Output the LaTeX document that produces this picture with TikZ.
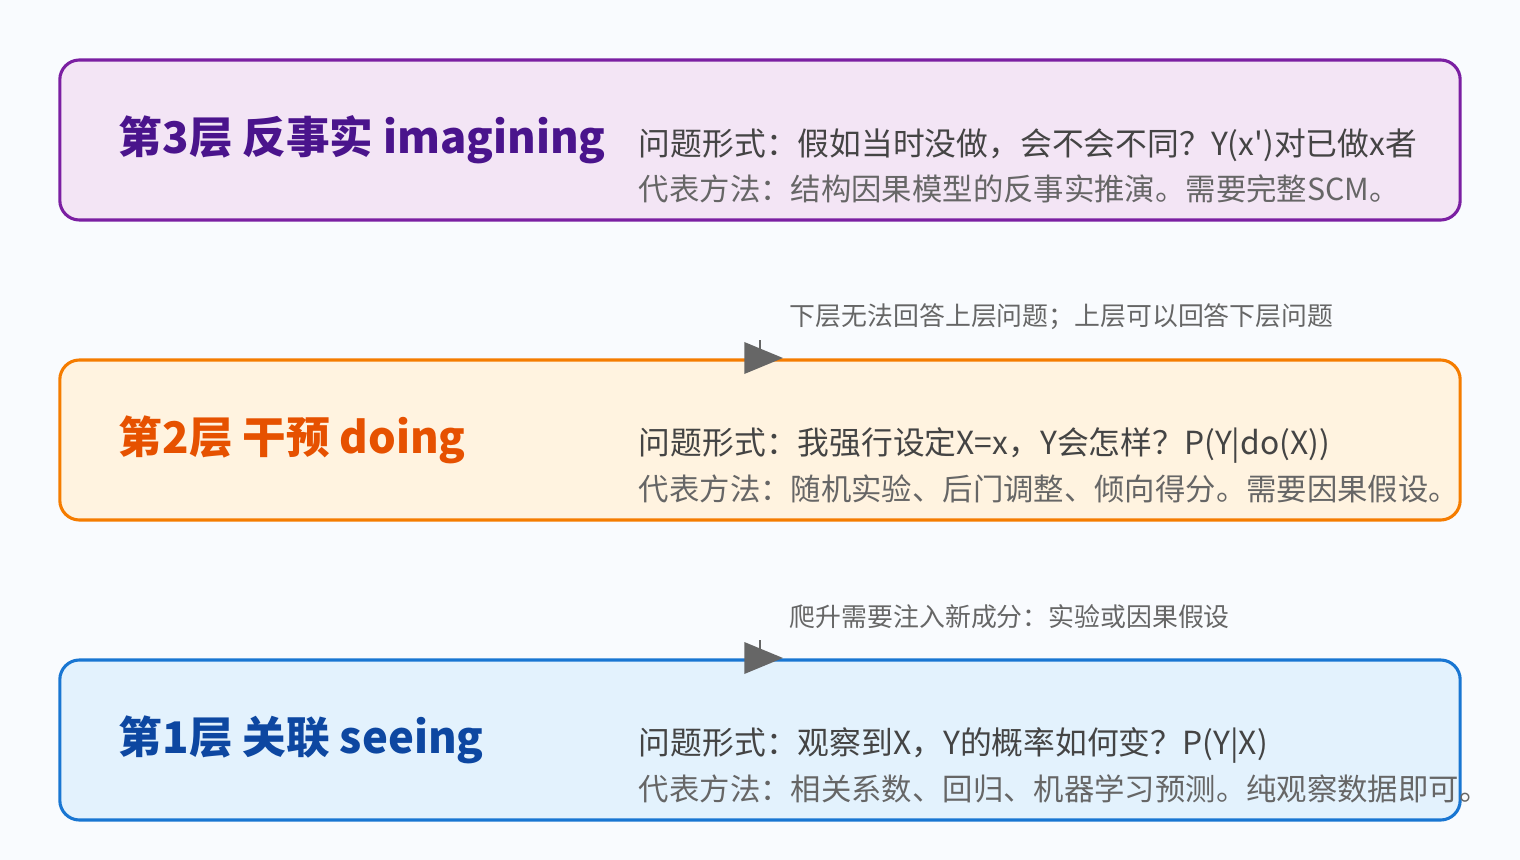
\documentclass[tikz,border=0pt]{standalone}
\usepackage{fontspec}
\setmainfont{Noto Sans CJK SC}
\newfontfamily\cjk{Noto Sans CJK SC}
\usetikzlibrary{shapes.geometric, positioning}
\definecolor{bgpaper}{HTML}{F9FBFE}
\definecolor{purpleedge}{HTML}{7B1FA2}
\definecolor{purplefill}{HTML}{F3E5F5}
\definecolor{purpletext}{HTML}{4A148C}
\definecolor{orangeedge}{HTML}{F57C00}
\definecolor{orangefill}{HTML}{FFF3E0}
\definecolor{orangetext}{HTML}{E65100}
\definecolor{blueedge}{HTML}{1976D2}
\definecolor{bluefill}{HTML}{E3F2FD}
\definecolor{bluetext}{HTML}{0D47A1}
\definecolor{mutedgray}{HTML}{666666}
\definecolor{darkgray}{HTML}{444444}

\begin{document}
\begin{tikzpicture}[x=0.025cm, y=-0.025cm,
  rung/.style={draw, line width=2.2pt, rounded corners=14pt, minimum width=35cm, minimum height=4cm, inner sep=0pt},
  title/.style={anchor=west, font=\cjk\bfseries\fontsize{31}{34}\selectfont},
  question/.style={anchor=west, font=\cjk\fontsize{22.6}{26}\selectfont, text=darkgray},
  method/.style={anchor=west, font=\cjk\fontsize{21.6}{25}\selectfont, text=mutedgray},
  note/.style={anchor=west, font=\cjk\fontsize{18.4}{21}\selectfont, text=mutedgray},
  tip/.style={isosceles triangle, fill=mutedgray, minimum width=0.8cm, minimum height=0.75cm, inner sep=0pt}
]
  \useasboundingbox (0,0) rectangle (1520,860);
  \fill[bgpaper] (0,0) rectangle (1520,860);

  % rungs of the ladder
  \node[rung, draw=purpleedge, fill=purplefill] (l3) at (760,140) {};
  \node[rung, draw=orangeedge, fill=orangefill] (l2) at (760,440) {};
  \node[rung, draw=blueedge, fill=bluefill] (l1) at (760,740) {};

  \node[title, text=purpletext] (t3) at (114,140) {第3层 反事实 imagining};
  \node[question] (q3) at (634,145) {问题形式：假如当时没做，会不会不同？Y(x')对已做x者};
  \node[method] (m3) at (634,189) {代表方法：结构因果模型的反事实推演。需要完整SCM。};

  \node[title, text=orangetext] (t2) at (114,440) {第2层 干预 doing};
  \node[question] (q2) at (634,445) {问题形式：我强行设定X=x，Y会怎样？P(Y|do(X))};
  \node[method] (m2) at (634,489) {代表方法：随机实验、后门调整、倾向得分。需要因果假设。};

  \node[title, text=bluetext] (t1) at (114,740) {第1层 关联 seeing};
  \node[question] (q1) at (634,745) {问题形式：观察到X，Y的概率如何变？P(Y|X)};
  \node[method] (m1) at (634,789) {代表方法：相关系数、回归、机器学习预测。纯观察数据即可。};

  % climbing markers
  \coordinate (c2) at (760,340);
  \coordinate (c1) at (760,640);
  \draw[mutedgray, line width=2pt] (c2) -- (c2 |- l2.north);
  \draw[mutedgray, line width=2pt] (c1) -- (c1 |- l1.north);
  \node[tip] (a2) at (755,358) {};
  \node[tip] (a1) at (755,658) {};
  \node[note] (n2) at (785,317) {下层无法回答上层问题；上层可以回答下层问题};
  \node[note] (n1) at (785,617) {爬升需要注入新成分：实验或因果假设};
\end{tikzpicture}
\end{document}
